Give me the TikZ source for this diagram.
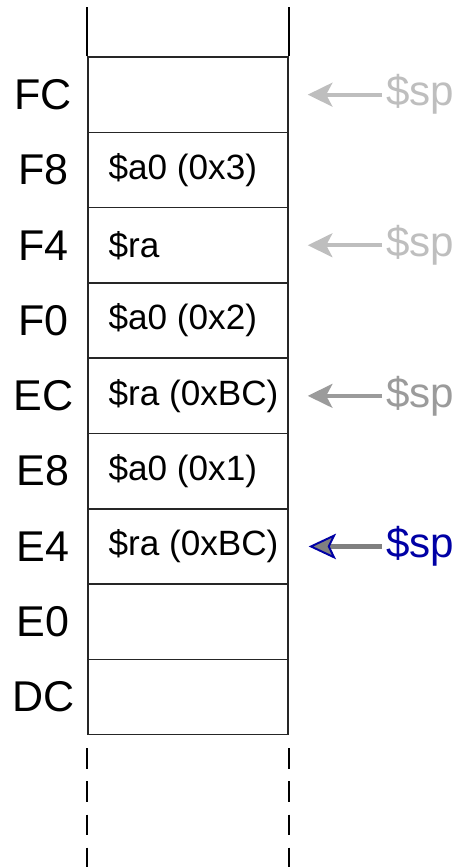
\documentclass[tikz,border=0pt]{standalone}
\usepackage{fontspec}
\setmainfont{Liberation Sans}
\usetikzlibrary{arrows.meta,positioning}

\definecolor{spfaint}{RGB}{190,190,190}
\definecolor{spmid}{RGB}{155,155,155}
\definecolor{spnow}{RGB}{0,0,165}
\definecolor{arrowgray}{RGB}{128,128,128}

\tikzset{
	cell/.style={draw=black!85, line width=0.85pt, minimum width=4cm, minimum height=1.506cm, inner sep=0},
	addr/.style={inner sep=0, font=\fontsize{24.5}{28}\selectfont},
	content/.style={anchor=west, inner sep=0, font=\fontsize{20}{24}\selectfont},
	sptext/.style={anchor=west, inner sep=0.08cm, font=\fontsize{24}{28}\selectfont},
	sparrow/.style={line width=2.4pt, -{Stealth[length=14pt, width=13.5pt, inset=3.5pt]}},
	gap/.style={line width=1.1pt, dash pattern=on 11.9pt off 6.9pt}
}

\begin{document}
\begin{tikzpicture}[x=0.02cm, y=-0.02cm]
		\useasboundingbox (0,0) rectangle (458,867);
		% stack frames
		\foreach \lab/\txt [count=\i from 0] in {FC/, F8/\$a0 (0x3), F4/\$ra, F0/\$a0 (0x2), EC/\$ra (0xBC), E8/\$a0 (0x1), E4/\$ra (0xBC), E0/, DC/} {
			\node[cell] (c\lab) at (188, {94.65+75.3*\i}) {};
			\node[addr] (a\lab) at ([xshift=-0.88cm]c\lab.west) {\lab};
			\node[content] (t\lab) at ([xshift=0.42cm]c\lab.west) {\txt};
		}
		\draw[line width=1.1pt] (cFC.north west) -- ++(0,-49);
		\draw[line width=1.1pt] (cFC.north east) -- ++(0,-49);
		\draw[gap] ([yshift=-0.26cm]cDC.south west) -- ++(0,120);
		\draw[gap] ([yshift=-0.26cm]cDC.south east) -- ++(0,120);
		% stack pointer
		\node[sptext, text=spfaint] (spFC) at (382, 94.65) {\$sp};
		\node[sptext, text=spfaint] (spF4) at (382, 245.25) {\$sp};
		\node[sptext, text=spmid] (spEC) at (382, 395.85) {\$sp};
		\node[sptext, text=spnow] (spE4) at (382, 546.45) {\$sp};
		\draw[sparrow, spfaint] (spFC.west) -- ([xshift=0.38cm]cFC.east);
		\draw[sparrow, spfaint] (spF4.west) -- ([xshift=0.38cm]cF4.east);
		\draw[sparrow, spmid] (spEC.west) -- ([xshift=0.38cm]cEC.east);
		\draw[line width=2.4pt, arrowgray, -{Stealth[length=15.5pt, width=14.5pt, inset=3.5pt, fill=arrowgray, color=spnow, line width=1.1pt]}]
		(spE4.west) -- ([xshift=0.4cm]cE4.east);
	\end{tikzpicture}
\end{document}
